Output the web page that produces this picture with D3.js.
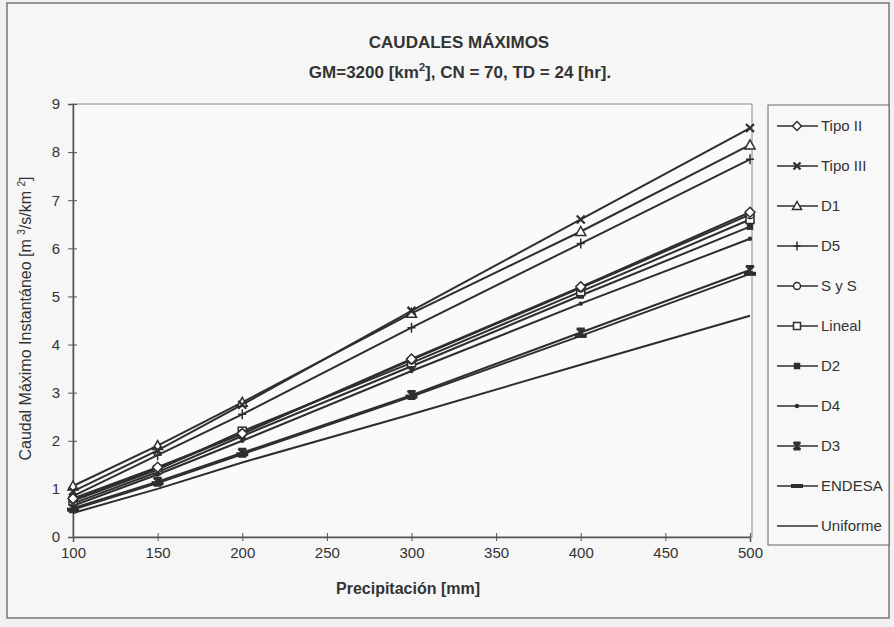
<!DOCTYPE html>
<html>
<head>
<meta charset="utf-8">
<script src="https://cdn.jsdelivr.net/npm/d3@7"></script>
<style>
  body { margin: 0; background: #f1f1f1; }
  svg { display: block; font-family: "Liberation Sans", Arial, sans-serif; }
  .tick text { font-size: 15px; fill: #333; }
  .legend text { font-family: "Liberation Sans Narrow", "Liberation Sans", Arial, sans-serif; font-size: 15px; fill: #333; }
</style>
</head>
<body>
<div id="chart"></div>
<script>
// Precipitation values (x) where the series were computed
const precip = [100, 150, 200, 300, 400, 500];

// Series names, in legend order
const seriesNames = ["Tipo II", "Tipo III", "D1", "D5", "S y S", "Lineal", "D2", "D4", "D3", "ENDESA", "Uniforme"];

// Caudal máximo [m3/s/km2]
const tipoII   = [0.80, 1.45, 2.15, 3.70, 5.20, 6.75];
const tipoIII  = [0.95, 1.80, 2.75, 4.70, 6.60, 8.50];
const d1       = [1.06, 1.90, 2.80, 4.65, 6.35, 8.15];
const d5       = [0.85, 1.70, 2.55, 4.35, 6.10, 7.85];
const sys      = [0.78, 1.42, 2.15, 3.68, 5.18, 6.70];
const lineal   = [0.75, 1.40, 2.20, 3.62, 5.10, 6.60];
const d2       = [0.70, 1.35, 2.10, 3.55, 5.02, 6.45];
const d4       = [0.65, 1.30, 2.00, 3.45, 4.85, 6.20];
const d3s      = [0.60, 1.15, 1.75, 2.95, 4.25, 5.55];
const endesa   = [0.57, 1.12, 1.72, 2.92, 4.18, 5.47];
const uniforme = [0.50, 1.00, 1.55, 2.55, 3.58, 4.60];

const seriesValues = [tipoII, tipoIII, d1, d5, sys, lineal, d2, d4, d3s, endesa, uniforme];
const seriesMarkers = ["diamond", "x", "triangle", "plus", "circle", "square", "fsquare", "dot", "asterisk", "dash", "none"];

const xTicks = [100, 150, 200, 250, 300, 350, 400, 450, 500];
const yTicks = [0, 1, 2, 3, 4, 5, 6, 7, 8, 9];

const W = 894, H = 627;
const INK = "#2e2e2e";

const svg = d3.select("#chart").append("svg")
    .attr("width", W)
    .attr("height", H);

// outer frame of the scanned sheet
svg.append("rect")
    .attr("x", 7).attr("y", 3)
    .attr("width", 882).attr("height", 615)
    .attr("fill", "#f6f6f6")
    .attr("stroke", "#777").attr("stroke-width", 1.5);

const x = d3.scaleLinear().domain([100, 500]).range([73, 750]);
const y = d3.scaleLinear().domain([0, 9]).range([537, 104]);

// plot area
svg.append("rect")
    .attr("x", x(100)).attr("y", y(9))
    .attr("width", x(500) - x(100) + 2).attr("height", y(0) - y(9))
    .attr("fill", "#fafafa")
    .attr("stroke", "#888").attr("stroke-width", 1);

// axes
svg.append("g")
    .attr("transform", `translate(0,${y(0)})`)
    .call(d3.axisBottom(x).tickValues(xTicks).tickSize(5).tickPadding(5))
    .call(g => g.select(".domain").attr("stroke", "#555").attr("stroke-width", 1.5))
    .call(g => g.selectAll(".tick line").attr("stroke", "#555").attr("y1", -4).attr("y2", 4))
    .call(g => g.selectAll(".tick text").attr("dy", "0.75em"));

svg.append("g")
    .attr("transform", `translate(${x(100)},0)`)
    .call(d3.axisLeft(y).tickValues(yTicks).tickSize(5).tickPadding(8))
    .call(g => g.select(".domain").attr("stroke", "#555").attr("stroke-width", 1.5))
    .call(g => g.selectAll(".tick line").attr("stroke", "#555").attr("x2", 4).attr("x1", -5));

// titles
svg.append("text")
    .attr("x", 459).attr("y", 48)
    .attr("text-anchor", "middle")
    .attr("font-size", 17).attr("font-weight", "bold").attr("fill", "#333")
    .text("CAUDALES MÁXIMOS");

const sub = svg.append("text")
    .attr("x", 460).attr("y", 78)
    .attr("text-anchor", "middle")
    .attr("font-size", 17).attr("font-weight", "bold").attr("fill", "#333");
sub.append("tspan").text("GM=3200 [km");
sub.append("tspan").attr("font-size", 11).attr("dy", -7).text("2");
sub.append("tspan").attr("dy", 7).text("], CN = 70, TD = 24 [hr].");

svg.append("text")
    .attr("x", 408).attr("y", 594)
    .attr("text-anchor", "middle")
    .attr("font-size", 16).attr("font-weight", "bold").attr("fill", "#333")
    .text("Precipitación [mm]");

const yl = svg.append("text")
    .attr("transform", `translate(31,${(y(0) + y(9)) / 2 - 2}) rotate(-90)`)
    .attr("text-anchor", "middle")
    .attr("font-size", 16).attr("fill", "#333");
yl.append("tspan").text("Caudal Máximo Instantáneo [m  ");
yl.append("tspan").attr("font-size", 10).attr("dy", -6).text("3");
yl.append("tspan").attr("dy", 6).text("/s/km ");
yl.append("tspan").attr("font-size", 10).attr("dy", -6).text("2");
yl.append("tspan").attr("dy", 6).text("]");

// marker drawing
function drawMarker(g, type, cx, cy, s) {
    const apply = (el, fill) => el.attr("stroke", INK).attr("stroke-width", 1.5).attr("fill", fill);
    if (type === "diamond") {
        apply(g.append("path"), "#fff")
            .attr("d", `M${cx},${cy - s - 1}L${cx + s + 1},${cy}L${cx},${cy + s + 1}L${cx - s - 1},${cy}Z`);
    } else if (type === "x") {
        apply(g.append("path"), "none")
            .attr("d", `M${cx - s},${cy - s}L${cx + s},${cy + s}M${cx - s},${cy + s}L${cx + s},${cy - s}`)
            .attr("stroke-width", 2.2);
    } else if (type === "triangle") {
        apply(g.append("path"), "#fff")
            .attr("d", `M${cx},${cy - s - 1}L${cx + s + 1},${cy + s}L${cx - s - 1},${cy + s}Z`);
    } else if (type === "plus") {
        apply(g.append("path"), "none")
            .attr("d", `M${cx - s},${cy}L${cx + s},${cy}M${cx},${cy - s - 1}L${cx},${cy + s + 1}`);
    } else if (type === "circle") {
        apply(g.append("circle"), "#fff").attr("cx", cx).attr("cy", cy).attr("r", s);
    } else if (type === "square") {
        apply(g.append("rect"), "#fff").attr("x", cx - s).attr("y", cy - s).attr("width", 2 * s).attr("height", 2 * s);
    } else if (type === "fsquare") {
        apply(g.append("rect"), INK).attr("x", cx - 2.5).attr("y", cy - 2.5).attr("width", 5).attr("height", 5);
    } else if (type === "dot") {
        g.append("circle").attr("cx", cx).attr("cy", cy).attr("r", 2.2).attr("fill", INK);
    } else if (type === "asterisk") {
        apply(g.append("path"), "none")
            .attr("d", `M${cx - s},${cy - s}L${cx + s},${cy + s}M${cx - s},${cy + s}L${cx + s},${cy - s}` +
                `M${cx - s},${cy - s}L${cx + s},${cy - s}M${cx - s},${cy + s}L${cx + s},${cy + s}M${cx},${cy - s}L${cx},${cy + s}`)
            .attr("stroke-width", 2);
    } else if (type === "dash") {
        g.append("rect").attr("x", cx - 6).attr("y", cy - 2).attr("width", 12).attr("height", 4).attr("fill", INK);
    }
}

const line = d3.line()
    .x((d, i) => x(precip[i]))
    .y(d => y(d));

// lines, drawn bottom series first
const plot = svg.append("g");
for (let k = seriesNames.length - 1; k >= 0; k--) {
    plot.append("path")
        .datum(seriesValues[k])
        .attr("d", line)
        .attr("fill", "none")
        .attr("stroke", INK)
        .attr("stroke-width", 2);
}
for (let k = seriesNames.length - 1; k >= 0; k--) {
    const mg = plot.append("g");
    seriesValues[k].forEach((v, i) => drawMarker(mg, seriesMarkers[k], x(precip[i]), y(v), 4));
}

// legend
const lg = svg.append("g").attr("class", "legend");
lg.append("rect")
    .attr("x", 768).attr("y", 105)
    .attr("width", 121).attr("height", 440)
    .attr("fill", "#f8f8f8")
    .attr("stroke", "#666").attr("stroke-width", 1);

const legendY = d3.scalePoint().domain(seriesNames).range([126, 526]);
seriesNames.forEach((name, k) => {
    const ly = legendY(name);
    const g = lg.append("g");
    g.append("line")
        .attr("x1", 777).attr("x2", 818)
        .attr("y1", ly).attr("y2", ly)
        .attr("stroke", INK).attr("stroke-width", 1.5);
    drawMarker(g, seriesMarkers[k], 797, ly, 3.5);
    g.append("text")
        .attr("x", 821).attr("y", ly)
        .attr("dy", "0.35em")
        .text(name);
});
</script>
</body>
</html>
